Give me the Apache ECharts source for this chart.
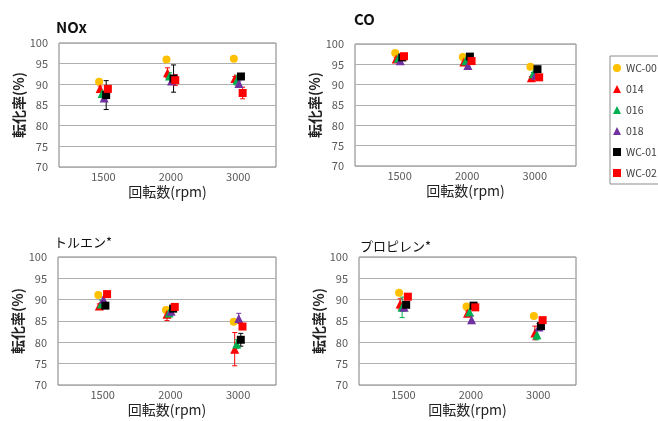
<!DOCTYPE html>
<html><head><meta charset="utf-8">
<script src="https://cdn.jsdelivr.net/npm/echarts@6/dist/echarts.min.js"></script>
<style>html,body{margin:0;padding:0;background:#fff}#c{width:658px;height:421px}</style>
</head><body><div id="c"></div>
<script>
// ---------- DATA ----------
const categories = ['1500', '2000', '3000'];
const seriesNames = ['WC-00', '014', '016', '018', 'WC-01', 'WC-02'];
const panelTitles = ['NOx', 'CO', 'トルエン*', 'プロピレン*'];
const xAxisTitle = '回転数(rpm)';
const yAxisTitle = '転化率(%)';
const yTicks = [70, 75, 80, 85, 90, 95, 100];

// values per series (order of seriesNames), one value per category
const noxValues = [
  [90.6, 96.0, 96.2],
  [89.0, 92.8, 91.4],
  [87.8, 92.0, 91.0],
  [86.7, 90.8, 90.2],
  [87.4, 91.4, 91.9],
  [88.9, 91.0, 87.9]
];
const noxErrors = [
  [0, 0, 0],
  [0.6, 1.2, 0.5],
  [0.6, 0.8, 1.2],
  [0.5, 0.6, 0.6],
  [3.5, 3.3, 0.4],
  [0.5, 1.3, 1.4]
];
const coValues = [
  [97.8, 96.8, 94.4],
  [96.3, 95.6, 91.7],
  [96.5, 95.9, 92.7],
  [95.9, 94.7, 92.3],
  [96.7, 96.9, 93.8],
  [97.0, 95.8, 91.8]
];
const coErrors = [
  [0, 0, 0],
  [0.3, 0.3, 0.3],
  [0.3, 0.3, 0.3],
  [0.3, 0.3, 0.3],
  [0.3, 0.3, 0.3],
  [0.3, 0.3, 0.3]
];
const tolueneValues = [
  [91.1, 87.6, 84.8],
  [88.5, 86.6, 78.4],
  [89.0, 86.9, 79.6],
  [90.1, 87.3, 85.6],
  [88.6, 87.9, 80.6],
  [91.3, 88.3, 83.7]
];
const tolueneErrors = [
  [0, 0.6, 0],
  [0.5, 1.5, 3.9],
  [0.9, 0.5, 1.0],
  [0.5, 0.5, 1.2],
  [0.4, 0.5, 1.5],
  [0.3, 0.3, 0.3]
];
const propyleneValues = [
  [91.6, 88.4, 86.2],
  [89.0, 86.8, 82.2],
  [88.2, 87.1, 81.8],
  [88.2, 85.3, 83.6],
  [88.8, 88.6, 83.8],
  [90.7, 88.2, 85.2]
];
const propyleneErrors = [
  [0, 0.5, 0],
  [1.2, 0.6, 1.6],
  [2.4, 0.6, 1.2],
  [0.5, 0.9, 0.8],
  [0.4, 0.3, 0.8],
  [0.3, 0.3, 0.3]
];

// ---------- STYLE / LAYOUT ----------
const panelValues = [noxValues, coValues, tolueneValues, propyleneValues];
const panelErrors = [noxErrors, coErrors, tolueneErrors, propyleneErrors];
const colors = ['#FFC000', '#FF0000', '#00B050', '#7030A0', '#000000', '#FF0000'];
const symbols = ['circle', 'triangle', 'triangle', 'triangle', 'rect', 'rect'];
const symbolSizes = [8, 9, 9, 9, 8, 8];
const seriesShift = [-0.065, -0.05, -0.02, 0.01, 0.04, 0.065];
const grids = [
  { left: 59, top: 43, width: 217, height: 124 },
  { left: 355, top: 44, width: 221, height: 122 },
  { left: 58, top: 257, width: 218, height: 128 },
  { left: 359, top: 257, width: 217, height: 128 }
];
const xRanges = [[0.34, 3.56], [0.34, 3.61], [0.34, 3.56], [0.34, 3.56]];
const titlePos = [
  { left: 56, top: 20, fontSize: 15, fontWeight: 'bold' },
  { left: 354, top: 12, fontSize: 15, fontWeight: 'bold' },
  { left: 54, top: 236, fontSize: 13, fontWeight: 'normal' },
  { left: 360, top: 240, fontSize: 13, fontWeight: 'normal' }
];
const FONT = '"Noto Sans CJK JP", "Noto Sans", sans-serif';

const chart = echarts.init(document.getElementById('c'), null, { renderer: 'canvas' });

const xAxes = [], yAxes = [], series = [];
grids.forEach((g, p) => {
  xAxes.push({
    type: 'value', gridIndex: p, min: xRanges[p][0], max: xRanges[p][1],
    name: xAxisTitle, nameLocation: 'middle', nameGap: 18,
    nameTextStyle: { fontFamily: FONT, fontSize: 14, color: '#222' },
    axisLine: { show: false }, axisTick: { show: false }, splitLine: { show: false },
    axisLabel: {
      customValues: categories.map((c, i) => i + 1),
      formatter: v => categories[Math.round(v) - 1],
      margin: 4, fontFamily: FONT, fontSize: 11, color: '#595959'
    }
  });
  yAxes.push({
    type: 'value', gridIndex: p, min: yTicks[0], max: yTicks[yTicks.length - 1], interval: 5,
    name: yAxisTitle, nameLocation: 'middle', nameGap: 33,
    nameTextStyle: { fontFamily: FONT, fontSize: 14, fontWeight: 'bold', color: '#222' },
    axisLine: { show: false }, axisTick: { show: false },
    splitLine: { lineStyle: { color: '#AFAFAF', width: 1 } },
    axisLabel: { margin: 11, fontFamily: FONT, fontSize: 11, color: '#595959' }
  });
  seriesNames.forEach((name, s) => {
    const vals = panelValues[p][s];
    const errs = panelErrors[p][s];
    const pts = vals.map((v, i) => [i + 1 + seriesShift[s], v, errs[i]]);
    series.push({
      name: name + ' err', type: 'custom', xAxisIndex: p, yAxisIndex: p,
      silent: true, data: pts,
      renderItem: (params, api) => {
        const x = api.value(0), y = api.value(1), e = api.value(2);
        if (!e) return null;
        const top = api.coord([x, y + e]);
        const bot = api.coord([x, y - e]);
        const c = colors[s], cw = 2.5;
        const st = { stroke: c, lineWidth: 1 };
        return { type: 'group', children: [
          { type: 'line', shape: { x1: top[0], y1: top[1], x2: bot[0], y2: bot[1] }, style: st },
          { type: 'line', shape: { x1: top[0] - cw, y1: top[1], x2: top[0] + cw, y2: top[1] }, style: st },
          { type: 'line', shape: { x1: bot[0] - cw, y1: bot[1], x2: bot[0] + cw, y2: bot[1] }, style: st }
        ] };
      }
    });
    series.push({
      name: name, type: 'scatter', xAxisIndex: p, yAxisIndex: p,
      symbol: symbols[s], symbolSize: symbolSizes[s],
      itemStyle: { color: colors[s], opacity: 1 },
      data: pts.map(d => [d[0], d[1]])
    });
  });
});

chart.setOption({
  animation: false,
  backgroundColor: '#ffffff',
  title: panelTitles.map((t, p) => ({
    text: t, left: titlePos[p].left, top: titlePos[p].top, padding: 0,
    textStyle: { fontFamily: FONT, fontSize: titlePos[p].fontSize, fontWeight: titlePos[p].fontWeight, color: '#111' }
  })),
  grid: grids.map(g => Object.assign({ show: true, borderColor: '#7F7F7F', borderWidth: 1, backgroundColor: 'transparent' }, g)),
  xAxis: xAxes,
  yAxis: yAxes,
  legend: {
    orient: 'vertical', left: 610, top: 56,
    data: seriesNames,
    itemWidth: 8, itemHeight: 8, itemGap: 7,
    padding: [5, 2, 4, 3],
    borderColor: '#8C8C8C', borderWidth: 1,
    textStyle: { fontFamily: FONT, fontSize: 10.5, color: '#404040', lineHeight: 14 },
    selectedMode: false
  },
  series: series
});
</script></body></html>
